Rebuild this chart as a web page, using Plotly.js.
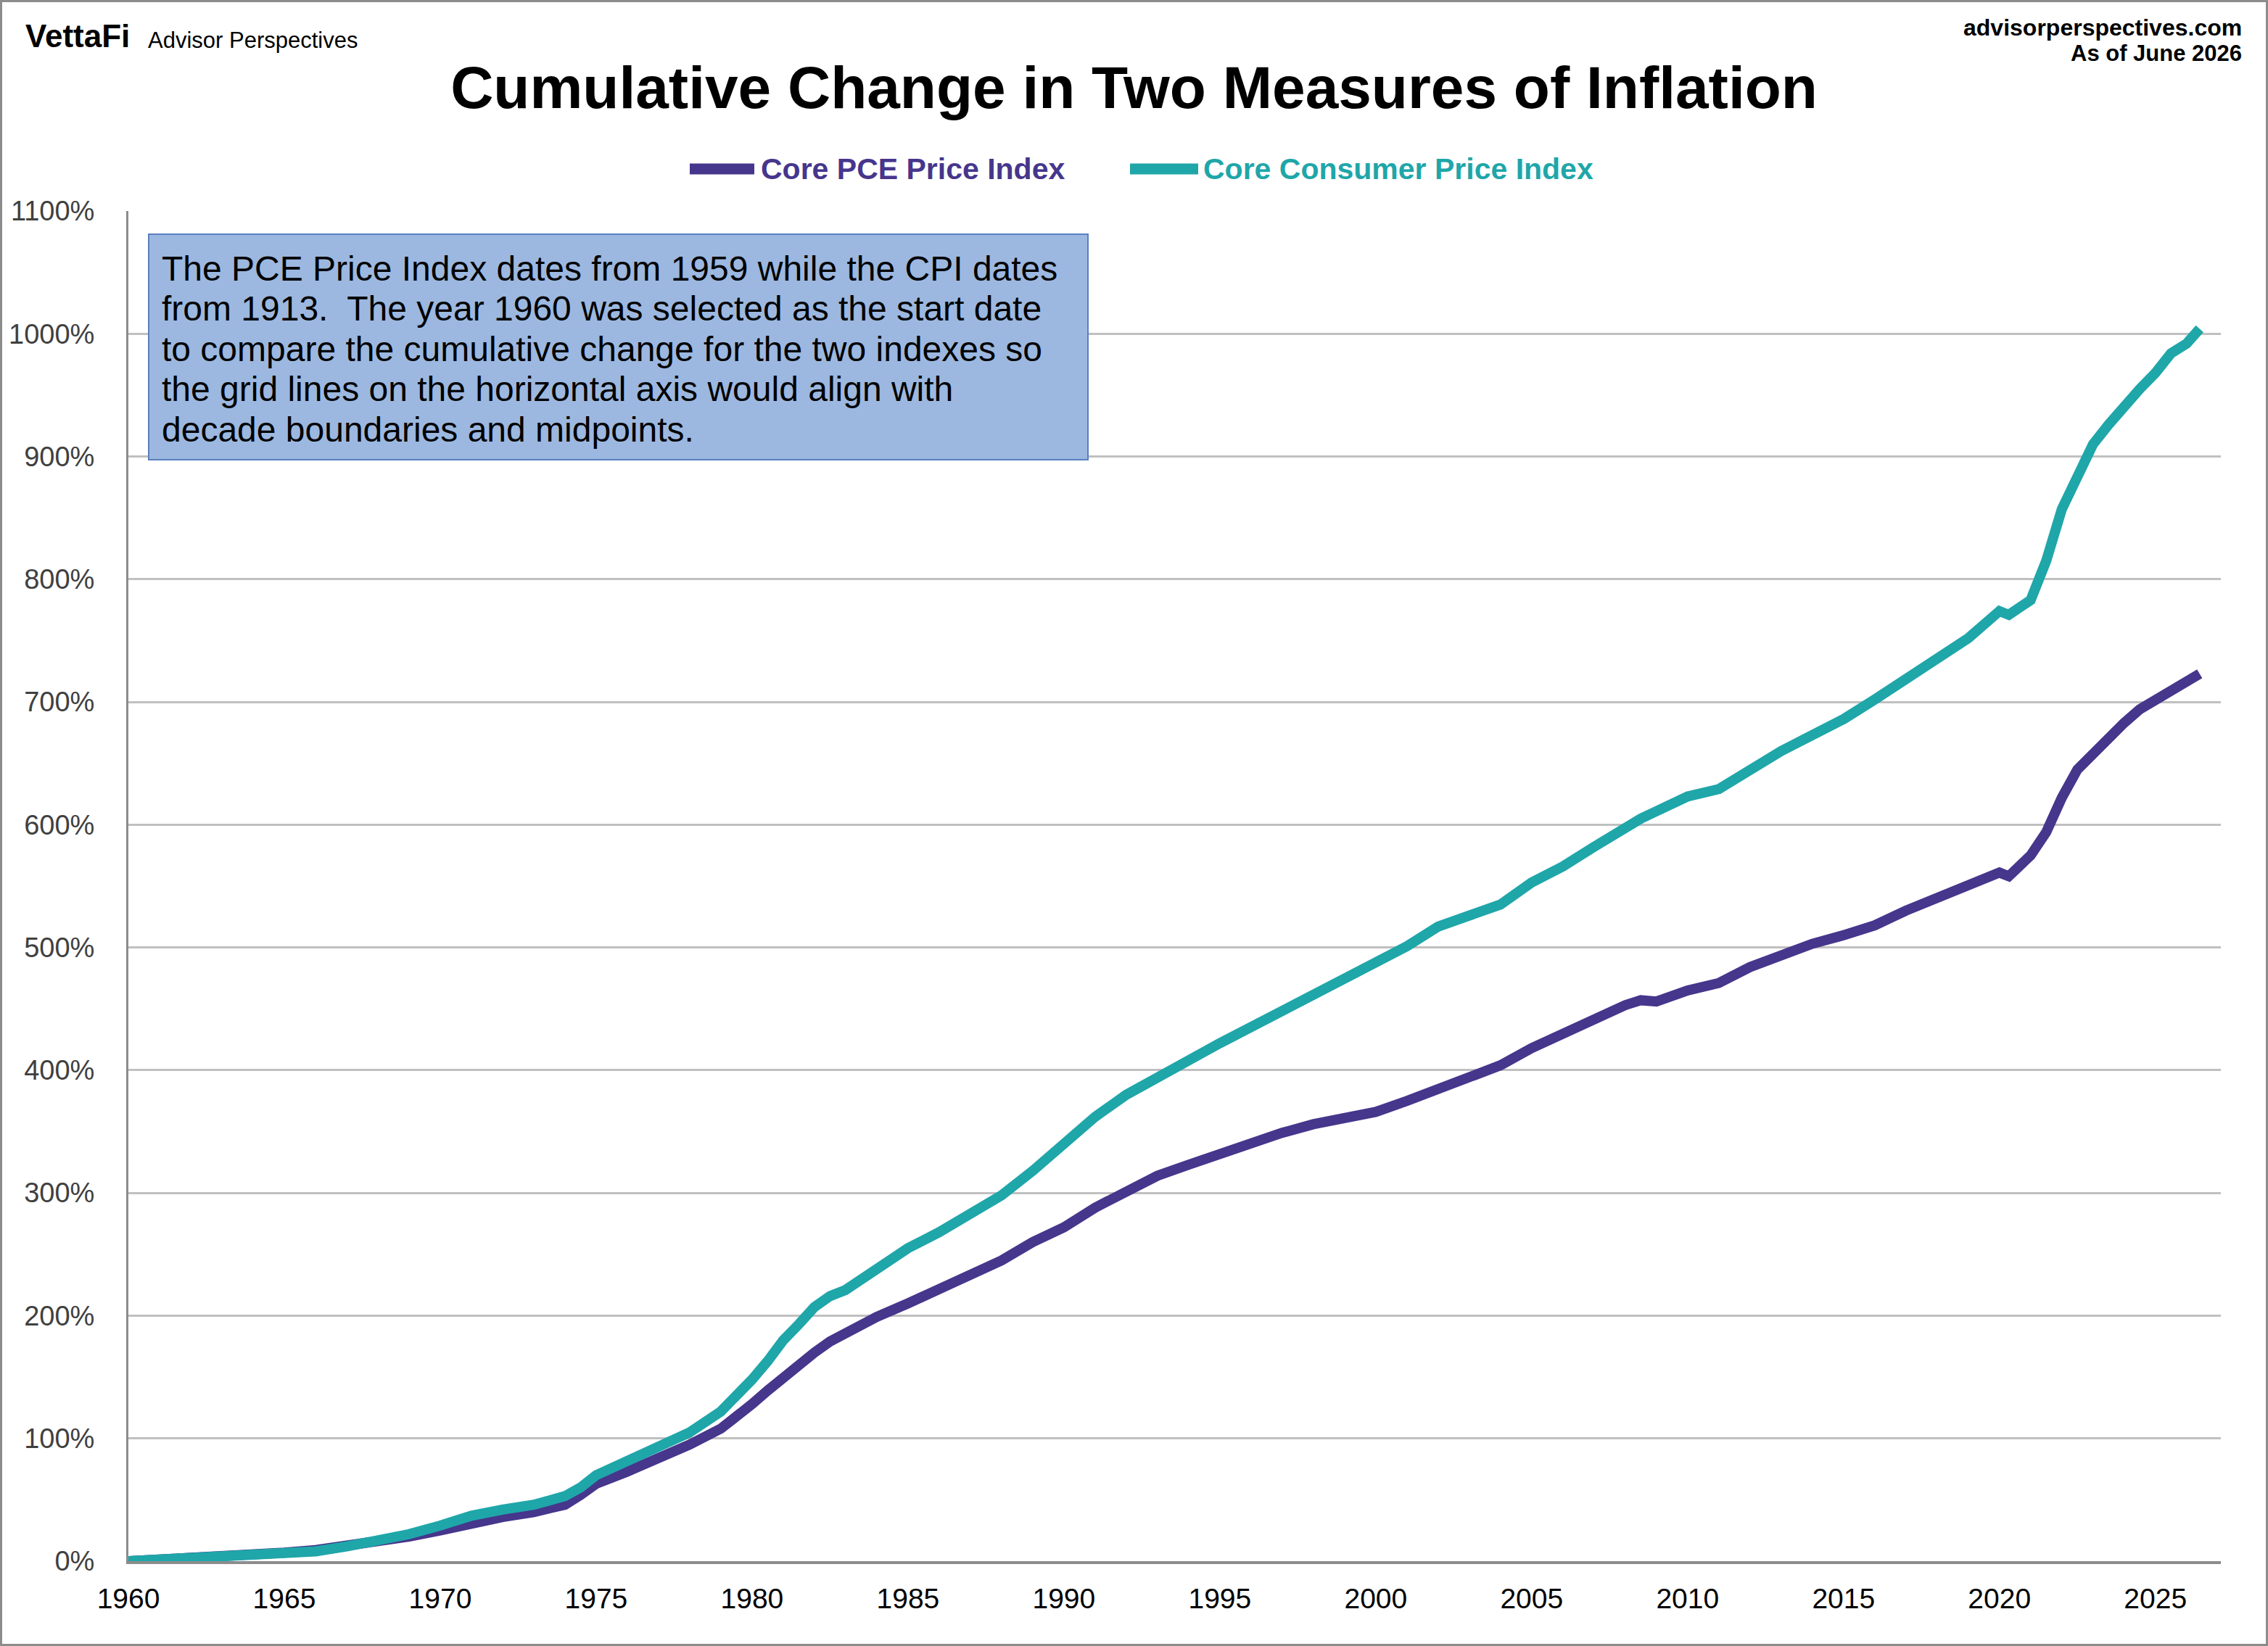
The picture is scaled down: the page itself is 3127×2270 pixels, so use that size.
<!DOCTYPE html>
<html><head><meta charset="utf-8">
<script src="https://cdn.plot.ly/plotly-3.0.1.min.js"></script>
<style>html,body{margin:0;padding:0;background:#fff;} #chart{width:3127px;height:2270px;}</style>
</head><body><div id="chart"></div>
<script>
// ---- data ----
const years = [1960,1961,1962,1963,1964,1965,1966,1967,1968,1969,
  1970,1971,1972,1973,1974,1974.5,1975,1976,1977,1978,1979,1979.5,
  1980,1980.5,1981,1981.5,1982,1982.5,1983,1984,1985,1986,1987,1988,1989,
  1990,1991,1992,1993,1994,1995,1996,1997,1998,1999,
  2000,2001,2002,2003,2004,2005,2006,2007,2008,2008.5,2009,
  2010,2011,2012,2013,2014,2015,2016,2017,2018,2019,
  2020,2020.3,2021,2021.5,2022,2022.5,2023,2023.5,2024,2024.5,2025,2025.5,2026,2026.42];
const corePCE = [0,1,2,4,5,7,9,12,15,20,
  25,31,36,40,46,54,63,73,83,95,108,117,
  128,139,150,161,170,179,186,199,210,222,232,245,260,
  272,288,302,314,323,332,341,349,356,361,
  366,375,384,394,404,418,430,443,453,457,456,
  465,471,484,494,503,510,518,530,540,550,
  561,558,575,594,622,645,658,671,683,694,702,710,716,723];
const coreCPI = [0,1,2,4,5,7,8,12,16,22,
  29,37,42,46,53,60,70,81,92,105,122,134,
  148,163,180,193,207,216,221,238,255,268,282,298,318,
  340,362,380,395,408,422,435,449,461,474,
  487,501,517,527,535,553,566,582,598,605,611,
  623,629,645,660,673,686,702,718,734,752,
  774,771,783,815,857,885,910,926,942,955,968,984,992,1004];
const seriesNames = ['Core PCE Price Index','Core Consumer Price Index'];
const seriesColors = ['#46368C','#1FA6A9'];
const xTicks = [1960,1965,1970,1975,1980,1985,1990,1995,2000,2005,2010,2015,2020,2025];
const yTicks = [0,100,200,300,400,500,600,700,800,900,1000,1100];
const titleText = 'Cumulative Change in Two Measures of Inflation';
const noteLines = [
  'The PCE Price Index dates from 1959 while the CPI dates',
  'from 1913.  The year 1960 was selected as the start date',
  'to compare the cumulative change for the two indexes so',
  'the grid lines on the horizontal axis would align with',
  'decade boundaries and midpoints.'
];

// ---- geometry ----
const FW = 3127, FH = 2270;
const L = 177, R = 3062, T = 291, B = 2153;
const px = x => (x - L) / (R - L);
const py = y => (B - y) / (B - T);
const FONT = 'Arial, "Liberation Sans", sans-serif';

const traces = [
  {x: years, y: corePCE, name: seriesNames[0], type: 'scatter', mode: 'lines',
   line: {color: seriesColors[0], width: 14}},
  {x: years, y: coreCPI, name: seriesNames[1], type: 'scatter', mode: 'lines',
   line: {color: seriesColors[1], width: 14}}
];

const shapes = [
  {type: 'rect', xref: 'paper', yref: 'paper', x0: px(1.5), x1: px(FW - 1.5), y0: py(FH - 1.5), y1: py(1.5),
   line: {color: '#8C8C8C', width: 3}, fillcolor: 'rgba(0,0,0,0)', layer: 'above'},
  {type: 'rect', xref: 'paper', yref: 'paper', x0: px(205), x1: px(1500), y0: py(634), y1: py(323),
   line: {color: '#5A80C0', width: 2}, fillcolor: '#9CB8E0', layer: 'above'},
  {type: 'line', xref: 'paper', yref: 'paper', x0: px(951), x1: px(1040), y0: py(233), y1: py(233),
   line: {color: seriesColors[0], width: 15}},
  {type: 'line', xref: 'paper', yref: 'paper', x0: px(1558), x1: px(1652), y0: py(233), y1: py(233),
   line: {color: seriesColors[1], width: 15}}
];

const annotations = [
  {text: '<b>VettaFi</b>', xref: 'paper', yref: 'paper', x: px(33), y: py(50), xanchor: 'left', yanchor: 'middle',
   showarrow: false, font: {family: FONT, size: 44, color: '#000'}},
  {text: 'Advisor Perspectives', xref: 'paper', yref: 'paper', x: px(202), y: py(55), xanchor: 'left', yanchor: 'middle',
   showarrow: false, font: {family: FONT, size: 31, color: '#000'}},
  {text: '<b>advisorperspectives.com</b>', xref: 'paper', yref: 'paper', x: px(3093), y: py(38), xanchor: 'right', yanchor: 'middle',
   showarrow: false, font: {family: FONT, size: 32, color: '#000'}},
  {text: '<b>As of June 2026</b>', xref: 'paper', yref: 'paper', x: px(3093), y: py(74), xanchor: 'right', yanchor: 'middle',
   showarrow: false, font: {family: FONT, size: 31, color: '#000'}},
  {text: '<b>' + seriesNames[0] + '</b>', xref: 'paper', yref: 'paper', x: px(1047), y: py(233), xanchor: 'left', yanchor: 'middle',
   showarrow: false, font: {family: FONT, size: 41, color: seriesColors[0]}},
  {text: '<b>' + seriesNames[1] + '</b>', xref: 'paper', yref: 'paper', x: px(1657), y: py(233), xanchor: 'left', yanchor: 'middle',
   showarrow: false, font: {family: FONT, size: 41, color: seriesColors[1]}}
];
const noteBaseTop = 370, noteStep = 55.5;
noteLines.forEach((t, i) => {
  annotations.push({text: t, xref: 'paper', yref: 'paper', x: px(221), y: py(noteBaseTop + i * noteStep),
    xanchor: 'left', yanchor: 'middle', showarrow: false, font: {family: FONT, size: 48, color: '#000'}});
});

const layout = {
  width: FW, height: FH,
  margin: {l: L, r: FW - R, t: T, b: FH - B, pad: 0},
  paper_bgcolor: '#fff', plot_bgcolor: '#fff',
  showlegend: false,
  title: {text: '<b>' + titleText + '</b>', x: 0.5, xanchor: 'center', y: 1 - 120 / FH, yanchor: 'middle',
          font: {family: FONT, size: 82, color: '#000'}},
  xaxis: {range: [1960, 2027.1], tickvals: xTicks, ticktext: xTicks.map(String), showgrid: false, zeroline: false,
          showline: true, linecolor: '#8C8C8C', linewidth: 4, ticks: '', ticklabelstandoff: 14,
          tickfont: {family: FONT, size: 39, color: '#000'}, fixedrange: true},
  yaxis: {range: [0, 1100], tickvals: yTicks, ticktext: yTicks.map(v => v + '%'), showgrid: true, gridcolor: '#C0C0C0', gridwidth: 3,
          zeroline: false, showline: true, linecolor: '#8C8C8C', linewidth: 3, ticks: '', ticklabelstandoff: 36,
          tickfont: {family: FONT, size: 38, color: '#404040'}, fixedrange: true},
  shapes: shapes,
  annotations: annotations
};
Plotly.newPlot('chart', traces, layout, {staticPlot: true, displayModeBar: false});
</script>
</body></html>
